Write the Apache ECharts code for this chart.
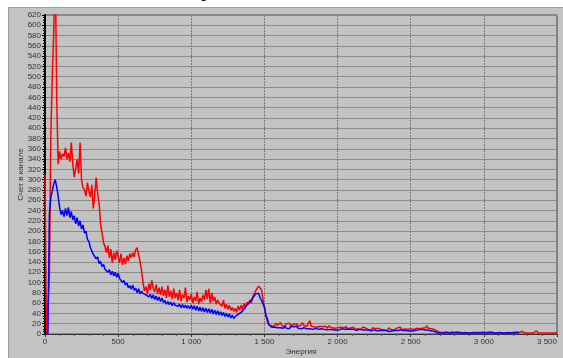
<!DOCTYPE html>
<html><head><meta charset="utf-8">
<script src="https://cdn.jsdelivr.net/npm/echarts@6/dist/echarts.min.js"></script>
<style>html,body{margin:0;padding:0;background:#fff}#c{width:563px;height:358px}</style>
</head><body><div id="c"></div>
<script>
// channel energy step (each value below is one channel of width 10)
const energyStep = 10;
const xTitle = "Энергия";
const yTitle = "Счет в канале";
// red spectrum, rows of 10 channels (0..3500)
const redCounts = [
310,0,0,110,390,500,590,720,460,330,
355,340,350,345,362,340,352,335,372,330,
305,322,340,312,372,298,284,280,268,294,
278,266,290,244,270,304,272,254,214,196,
178,170,158,172,148,165,138,158,144,162,
150,138,156,134,148,136,152,142,156,148,
158,150,164,168,154,140,124,100,84,92,
78,98,86,104,88,82,96,78,90,76,
92,74,86,70,94,72,84,68,88,70,
80,66,86,64,76,70,90,62,74,66,
78,60,72,64,82,58,70,62,76,66,
86,68,88,60,80,64,72,58,66,60,
62,54,66,50,58,48,56,46,52,44,
50,42,54,46,56,48,60,52,62,58,
66,60,72,70,84,88,93,90,86,68,
52,36,24,18,20,16,19,15,21,17,
18,22,16,19,15,20,17,21,16,18,
19,16,20,15,18,17,22,16,19,15,
17,26,15,18,14,17,13,16,15,12,
14,12,15,11,16,13,12,14,11,13,
12,10,13,11,12,9,14,10,11,12,
11,13,9,12,10,11,9,13,10,12,
10,9,11,8,12,9,10,8,11,9,
9,11,8,10,7,12,9,8,10,9,
8,12,9,13,8,11,10,12,9,11,
10,13,9,12,11,14,10,12,11,13,
12,16,11,14,10,12,9,8,6,5,
3,4,3,2,4,3,2,3,4,2,
3,2,4,2,3,5,2,3,2,4,
2,3,2,4,3,2,3,2,3,2,
3,2,3,2,4,2,3,6,2,3,
2,3,2,3,2,4,2,3,2,3,
3,2,4,2,3,2,5,3,2,3,
2,3,2,4,2,3,6,2,3,2,
3,2,3,2,4,2,3,2,5,2,
3
];
// blue spectrum (0..3240)
const blueCounts = [
0,0,2,235,266,278,292,300,286,268,
246,232,240,228,244,230,246,226,238,222,
230,214,226,210,220,204,212,196,200,184,
180,168,169,155,158,146,150,137,141,131,
135,126,129,120,125,115,122,113,120,110,
118,108,111,100,104,95,99,90,94,87,
95,85,89,80,88,78,83,79,81,76,
79,72,77,69,76,67,74,65,72,63,
70,61,65,58,63,57,62,55,61,56,
59,54,58,51,57,51,56,50,55,49,
56,48,55,46,54,45,52,44,51,43,
50,42,49,41,48,39,46,38,45,37,
43,36,42,34,40,33,39,31,37,30,
34,31,38,35,42,40,48,47,56,55,
62,61,70,69,78,75,79,71,72,59,
52,36,30,18,17,13,15,13,14,12,
14,12,13,11,15,11,14,10,15,12,
14,11,15,11,14,10,12,12,13,10,
13,10,13,9,12,11,11,9,11,10,
11,9,10,8,10,9,12,8,11,8,
9,8,9,10,8,9,8,9,8,9,
8,9,8,7,8,9,7,8,7,8,
7,8,7,6,7,8,7,6,7,7,
6,7,6,7,6,5,7,6,6,7,
6,7,6,8,6,7,6,7,8,6,
7,6,8,7,6,8,7,9,7,8,
7,8,9,7,8,6,5,4,3,2,
3,2,3,2,2,3,2,2,3,2,
2,3,2,2,3,2,2,3,2,2,
3,2,2,3,2,2,3,2,2,3,
2,2,3,2,2,3,2,2,3,2,
2,3,2,2,3,2,2,3,2,2,
3,2,2,3,2
];
const xMax = 3500, xInterval = 500, yMax = 620, yInterval = 20;

const toPairs = arr => arr.map((v, i) => [i * energyStep, v]);
const fmt = v => String(v).replace(/\B(?=(\d{3})+(?!\d))/g, ' ');
const chart = echarts.init(document.getElementById('c'), null, {renderer: 'canvas'});
const font = 'Liberation Sans';
chart.setOption({
  animation: false,
  backgroundColor: '#ffffff',
  graphic: [
    {type: 'rect', z: -10, shape: {x: 8.5, y: 7.5, width: 560, height: 360}, style: {fill: '#c3c3c3', stroke: '#9c9c9c', lineWidth: 1}},
    {type: 'text', z: 5, x: 201, y: 1, style: {text: 'р', font: '22px "Liberation Serif"', fill: '#000', verticalAlign: 'bottom'}}
  ],
  grid: {left: 45, right: 6, top: 15, bottom: 24, outerBoundsMode: 'none', containLabel: false, show: true, backgroundColor: '#c3c3c3', borderColor: '#4a4a4a', borderWidth: 1},
  xAxis: {
    type: 'value', min: 0, max: xMax, interval: xInterval,
    name: xTitle, nameLocation: 'middle', nameGap: 14, nameMoveOverlap: false,
    nameTextStyle: {fontFamily: font, fontSize: 8, color: '#333'},
    axisLine: {onZero: false, lineStyle: {color: '#333', width: 1}},
    axisTick: {show: true, length: 3, lineStyle: {color: '#333'}},
    minorTick: {show: true, splitNumber: 5, length: 2, lineStyle: {color: '#555'}},
    axisLabel: {fontFamily: font, fontSize: 8, color: '#333', margin: 4, formatter: fmt, alignMaxLabel: 'right'},
    splitLine: {show: true, lineStyle: {color: '#7a7a7a', type: [2, 1], width: 1}}
  },
  yAxis: {
    type: 'value', min: 0, max: yMax, interval: yInterval,
    name: yTitle, nameLocation: 'middle', nameGap: 20, nameRotate: 90, nameMoveOverlap: false,
    nameTextStyle: {fontFamily: font, fontSize: 8, color: '#333'},
    axisLine: {show: true, lineStyle: {color: '#000', width: 2}},
    axisTick: {show: true, length: 3, lineStyle: {color: '#000'}},
    minorTick: {show: true, splitNumber: 4, length: 2, lineStyle: {color: '#000'}},
    axisLabel: {fontFamily: font, fontSize: 8, color: '#333', margin: 4},
    splitLine: {show: true, lineStyle: {color: '#8a8a8a', width: 1}}
  },
  series: [
    {type: 'line', data: toPairs(redCounts), showSymbol: false, symbol: 'none', clip: true,
     lineStyle: {color: '#ff0000', width: 1.5}, itemStyle: {color: '#ff0000'}, z: 2},
    {type: 'line', data: toPairs(blueCounts), showSymbol: false, symbol: 'none', clip: true,
     lineStyle: {color: '#0000ff', width: 1.5}, itemStyle: {color: '#0000ff'}, z: 3}
  ]
});
</script></body></html>
